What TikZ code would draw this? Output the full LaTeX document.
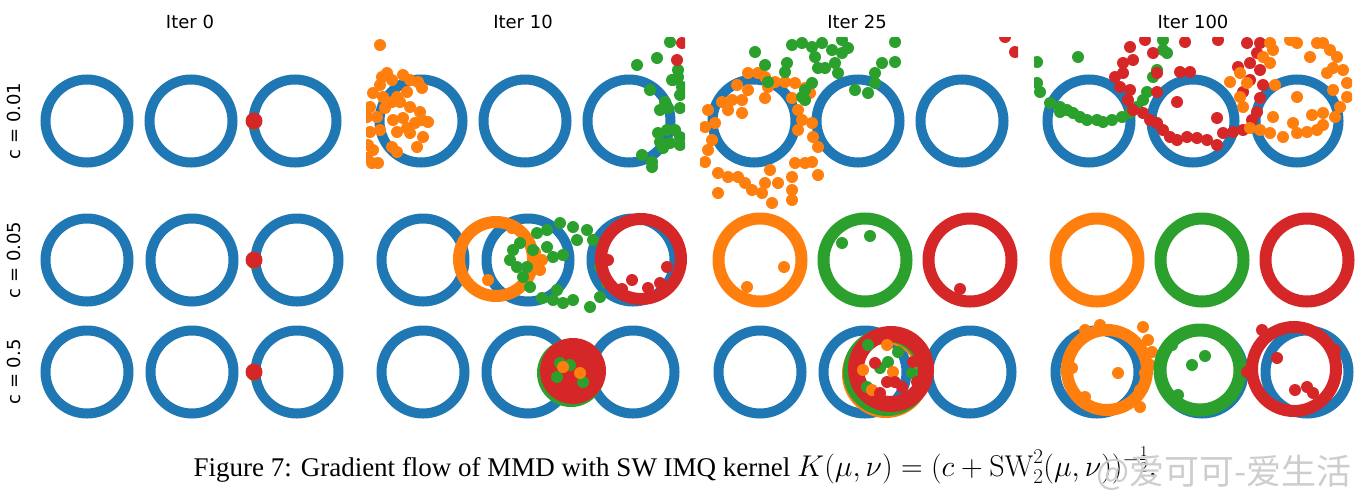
\RequirePackage{fix-cm}
\documentclass[tikz,border=0pt]{standalone}
\usepackage{amsmath}
\usepackage{fontspec}
\newfontfamily\plotfont{DejaVu Sans}
\newfontfamily\capfont{Liberation Serif}
\newfontfamily\cjkfont{Noto Sans CJK SC}
\usetikzlibrary{positioning}

\definecolor{tabblue}{HTML}{1F77B4}
\definecolor{taborange}{HTML}{FF7F0E}
\definecolor{tabgreen}{HTML}{2CA02C}
\definecolor{tabred}{HTML}{D62728}
\definecolor{wmgray}{HTML}{CDCDCD}

\tikzset{
  lab/.style={font=\plotfont\fontsize{18}{20}\selectfont},
  ring/.style={line width=10pt},
  fatring/.style={line width=12pt},
}
% three target rings of one panel
\newcommand{\targets}[3]{\foreach \k in {0,1,2} \draw[ring,tabblue] ({#1+\k*#3},#2) circle (41.5pt);}
% scattered particles
\newcommand{\scat}[2]{\foreach \x/\y in {#2} \fill[#1] (\x,\y) circle (6pt);}

\begin{document}
\begin{tikzpicture}[x=1pt,y=-1pt]
\useasboundingbox (0,0) rectangle (1370,499);

\node[lab] (t0) at (190,22) {Iter 0};
\node[lab] (t10) at (523,22) {Iter 10};
\node[lab] (t25) at (857,22) {Iter 25};
\node[lab] (t100) at (1193,22) {Iter 100};
\node[lab,rotate=90] (r1) at (13.5,121) {c = 0.01};
\node[lab,rotate=90] (r2) at (13.5,260) {c = 0.05};
\node[lab,rotate=90] (r3) at (13.5,372) {c = 0.5};

% Iter 0
\foreach \y/\s in {121/104,260/105,372/105} {
  \targets{87}{\y}{\s}
  \fill[tabgreen] (254,\y+3) circle (6pt);
  \fill[tabred] (254,\y) circle (8.5pt);
}

% Iter 10
\begin{scope}
\clip (366,37) rectangle (685,208);
\targets{421}{121}{104}
\scat{taborange}{380/45,382/77,392/80,373/93,383/97,397/97,410/80,418/82,422/88,407/92,400/102,385/108,370/107,367/117,377/117,393/120,403/118,415/123,422/120,428/122,407/128,397/132,380/130,370/132,368/145,373/150,378/163,367/158,392/147,397/152,417/147,423/137,410/133,392/102,410/107,420/112,380/85,403/75,372/163,387/73}
\scat{tabgreen}{637/65,657/58,670/42,650/90,672/80,678/70,680/95,680/108,665/102,660/110,668/108,658/133,667/130,675/130,680/137,660/142,670/143,680/145,663/148,642/155,652/162,652/167,673/80,678/77,682/87}
\scat{tabred}{682/43,677/60}
\end{scope}
\targets{423}{260}{105}
\draw[fatring,taborange] (496,259) circle (37pt);
\scat{taborange}{512/228,488/280,535/252,542/260,540/270}
\scat{tabgreen}{510/260,513/250,517/267,523/277,530/287,520/243,537/233,547/230,560/223,573/227,587/230,593/240,577/240,553/257,563/255,547/247,600/267,607/283,600/297,590/307,573/300,563/303,553/300,542/298,557/290,533/250,527/267}
\draw[fatring,tabred] (641,259) circle (40pt);
\scat{tabred}{608/260,667/267,632/280,622/289,648/288,660/283}
\targets{423}{372}{105}
\fill[tabgreen] (571,373) circle (34pt);
\fill[tabred] (573,371) circle (33pt);
\scat{tabgreen}{560/363,570/365,557/377,583/382}
\scat{taborange}{580/373,563/367}

% Iter 25
\begin{scope}
\clip (700,37) rectangle (1018,208);
\targets{754}{121}{104}
\scat{taborange}{748/73,758/73,765/77,775/82,785/82,795/83,805/88,810/93,737/85,748/90,742/100,732/100,722/102,708/110,705/127,715/123,712/140,708/150,705/162,718/173,728/177,738/177,745/183,752/190,762/193,765/183,770/170,778/183,792/177,792/190,795/163,805/163,812/162,818/175,792/200,772/203,718/193,765/98,792/98,798/110,802/120,812/123,813/137,818/147,798/130,742/113,728/110,768/87}
\scat{tabgreen}{755/52,765/65,787/63,785/72,792/45,802/43,812/47,815/57,822/43,832/50,835/63,842/53,848/48,838/73,825/68,818/68,805/90,802/97,812/83,805/100,875/73,882/63,895/62,895/42,855/90,868/93,875/83,768/82,842/40}
\scat{tabred}{1015/52,1005/37}
\end{scope}
\targets{760}{260}{105}
\draw[fatring,taborange] (760,260) circle (41.5pt);
\draw[fatring,tabgreen] (865,260) circle (41.5pt);
\draw[fatring,tabred] (970,260) circle (41.5pt);
\scat{taborange}{784/267,747/287}
\scat{tabgreen}{842/243,870/236}
\scat{tabred}{960/289}
\targets{760}{372}{105}
\draw[line width=14pt,taborange] (886,374) circle (37pt);
\draw[line width=14pt,tabgreen] (887,372) circle (37pt);
\draw[line width=16pt,tabred] (891,369) circle (35pt);
\scat{tabgreen}{868/345,888/362,880/368,912/373,867/387,898/352}
\scat{taborange}{863/370,893/372,887/345,872/390}
\scat{tabred}{875/363,887/382,895/382,902/387,913/362,880/393,917/382}

% Iter 100
\begin{scope}
\clip (1034,37) rectangle (1352,208);
\targets{1089}{121}{104}
\scat{tabgreen}{1037/62,1078/57,1037/83,1040/92,1050/103,1060/107,1067/110,1073/113,1080/117,1087/120,1097/120,1103/122,1112/120,1122/117,1130/113,1137/107,1143/100,1147/92,1153/77,1157/70,1163/50,1167/53,1163/40,1060/112}
\scat{tabred}{1130/47,1145/40,1133/60,1123/63,1115/77,1123/73,1120/87,1130/90,1128/100,1133/110,1143/113,1150/120,1157/123,1157/92,1153/53,1163/130,1170/137,1177/140,1187/137,1197/138,1207/140,1217/145,1177/102,1180/72,1190/72,1185/42,1218/40,1217/118,1223/133,1233/132,1243/130,1252/120,1257/112,1260/98,1263/85,1260/70,1250/63,1257/53,1247/43,1238/67,1243/92,1250/80,1260/43,1157/73}
\scat{taborange}{1230/82,1240/73,1247/83,1240/97,1243/107,1250/128,1260/130,1270/133,1283/137,1297/133,1307/132,1317/130,1323/125,1323/113,1335/117,1340/107,1347/97,1347/83,1343/70,1337/57,1333/68,1327/73,1333/90,1330/50,1323/43,1310/57,1297/43,1290/40,1270/43,1263/57,1270/63,1275/85,1297/97,1273/117,1293/123,1312/115,1317/43,1273/50}
\end{scope}
\draw[fatring,taborange] (1097,260) circle (41.5pt);
\draw[fatring,tabgreen] (1202,260) circle (41.5pt);
\draw[fatring,tabred] (1307,260) circle (41.5pt);
\targets{1097}{372}{105}
\draw[fatring,taborange] (1107,370) circle (40pt);
\scat{taborange}{1143/327,1148/340,1152/352,1150/365,1145/373,1072/368,1118/373,1085/397,1140/407,1140/390,1085/330,1100/325}
\draw[line width=13pt,tabgreen] (1200,370) circle (40pt);
\scat{tabgreen}{1192/365,1205/356,1172/345,1178/395,1225/340}
\draw[fatring,tabred] (1294,369) circle (42pt);
\scat{tabred}{1277/358,1295/390,1307/387,1313/393,1247/372,1262/330,1335/350}

% caption
\node[anchor=base west,font=\capfont\fontsize{27}{29}\selectfont] (cap) at (190,476)
  {Figure 7: Gradient flow of MMD with SW IMQ kernel \fontsize{30}{32}\selectfont$K(\mu,\nu)=(c+\mathrm{SW}_2^2(\mu,\nu))^{-\frac{1}{2}}$.};
\node[anchor=base west,font=\cjkfont\fontsize{35}{37}\selectfont,text=wmgray] (wm) at (1093,484) {@爱可可-爱生活};
\end{tikzpicture}
\end{document}
